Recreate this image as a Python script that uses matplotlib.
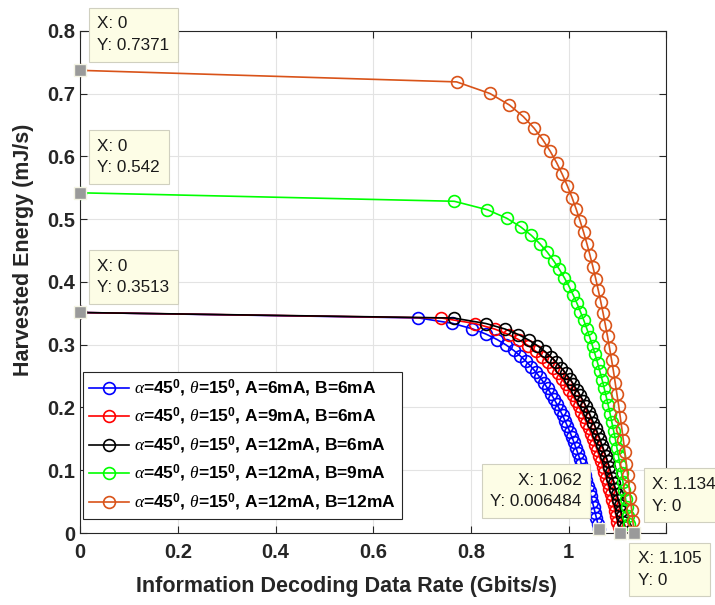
import matplotlib
matplotlib.use("Agg")
import matplotlib.pyplot as plt

# --- data (x: Gbits/s, y: mJ/s) ---
x_blue = [0, 0.6924, 0.7618, 0.8024, 0.8312, 0.8536, 0.8719, 0.8873, 0.9007, 0.9125, 0.9231,
          0.9326, 0.9414, 0.9493, 0.9568, 0.9637, 0.9701, 0.9762, 0.9819, 0.9874, 0.9925,
          0.9974, 1.0021, 1.0066, 1.0108, 1.0148, 1.0188, 1.0226, 1.0262, 1.0298, 1.0331,
          1.0364, 1.0396, 1.0427, 1.0456, 1.0486, 1.0514, 1.0541, 1.0569, 1.0595, 1.062]
y_blue = [0.3513, 0.3427, 0.3341, 0.3254, 0.3168, 0.3082, 0.2996, 0.2910, 0.2823, 0.2737, 0.2651,
          0.2565, 0.2479, 0.2392, 0.2306, 0.2220, 0.2134, 0.2048, 0.1961, 0.1875, 0.1789,
          0.1703, 0.1617, 0.1530, 0.1444, 0.1358, 0.1272, 0.1186, 0.1099, 0.1013, 0.0927,
          0.0841, 0.0755, 0.0668, 0.0582, 0.0496, 0.0410, 0.0324, 0.0237, 0.0151, 0.006484]

x_red = [0, 0.7397, 0.8083, 0.8484, 0.8770, 0.8991, 0.9172, 0.9324, 0.9457, 0.9573, 0.9678,
         0.9772, 0.9858, 0.9937, 1.0010, 1.0079, 1.0143, 1.0202, 1.0260, 1.0313, 1.0364,
         1.0412, 1.0458, 1.0502, 1.0544, 1.0585, 1.0623, 1.0661, 1.0698, 1.0732, 1.0766,
         1.0797, 1.0829, 1.0860, 1.0890, 1.0919, 1.0946, 1.0973, 1.0999, 1.1026, 1.105]
y_red = [0.3513, 0.3425, 0.3337, 0.3250, 0.3162, 0.3074, 0.2986, 0.2898, 0.2810, 0.2723, 0.2635,
         0.2547, 0.2459, 0.2371, 0.2283, 0.2196, 0.2108, 0.2020, 0.1932, 0.1844, 0.1757,
         0.1669, 0.1581, 0.1493, 0.1405, 0.1317, 0.1230, 0.1142, 0.1054, 0.0966, 0.0878,
         0.0790, 0.0703, 0.0615, 0.0527, 0.0439, 0.0351, 0.0263, 0.0176, 0.0088, 0.0]

x_black = [0, 0.7647, 0.8309, 0.8696, 0.8971, 0.9184, 0.9358, 0.9506, 0.9633, 0.9746, 0.9846,
           0.9937, 1.0021, 1.0097, 1.0167, 1.0233, 1.0295, 1.0352, 1.0407, 1.0460, 1.0508,
           1.0555, 1.0599, 1.0642, 1.0682, 1.0721, 1.0759, 1.0795, 1.0829, 1.0863, 1.0895,
           1.0926, 1.0957, 1.0987, 1.1015, 1.1043, 1.1070, 1.1095, 1.1121, 1.1145, 1.117]
y_black = y_red

x_green = [0, 0.7659, 0.8338, 0.8734, 0.9016, 0.9235, 0.9413, 0.9564, 0.9694, 0.9809, 0.9913,
           1.0007, 1.0091, 1.0170, 1.0242, 1.0310, 1.0373, 1.0433, 1.0488, 1.0541, 1.0592,
           1.0639, 1.0685, 1.0728, 1.0770, 1.0810, 1.0849, 1.0885, 1.0921, 1.0956, 1.0988,
           1.1021, 1.1051, 1.1082, 1.1111, 1.1139, 1.1166, 1.1193, 1.1219, 1.1245, 1.127]
y_green = [0.542, 0.5285, 0.5149, 0.5014, 0.4878, 0.4743, 0.4607, 0.4472, 0.4336, 0.4201, 0.4065,
           0.3930, 0.3794, 0.3659, 0.3523, 0.3388, 0.3252, 0.3117, 0.2981, 0.2846, 0.2710,
           0.2575, 0.2439, 0.2304, 0.2168, 0.2033, 0.1897, 0.1762, 0.1626, 0.1491, 0.1355,
           0.1220, 0.1084, 0.0949, 0.0813, 0.0678, 0.0542, 0.0407, 0.0271, 0.0136, 0.0]

x_orange = [0, 0.7707, 0.8389, 0.8789, 0.9072, 0.9292, 0.9471, 0.9623, 0.9755, 0.9870, 0.9975,
            1.0069, 1.0154, 1.0233, 1.0306, 1.0374, 1.0437, 1.0497, 1.0553, 1.0606, 1.0657,
            1.0705, 1.0751, 1.0795, 1.0837, 1.0877, 1.0916, 1.0952, 1.0988, 1.1024, 1.1057,
            1.1089, 1.1120, 1.1151, 1.1180, 1.1208, 1.1236, 1.1263, 1.1289, 1.1315, 1.134]
y_orange = [0.7371, 0.7187, 0.7002, 0.6818, 0.6634, 0.6450, 0.6265, 0.6081, 0.5897, 0.5713, 0.5528,
            0.5344, 0.5160, 0.4975, 0.4791, 0.4607, 0.4423, 0.4238, 0.4054, 0.3870, 0.3686,
            0.3501, 0.3317, 0.3133, 0.2948, 0.2764, 0.2580, 0.2396, 0.2211, 0.2027, 0.1843,
            0.1659, 0.1474, 0.1290, 0.1106, 0.0921, 0.0737, 0.0553, 0.0369, 0.0184, 0.0]

labels = [r"$\alpha$=45$^0$, $\theta$=15$^0$, A=6mA, B=6mA",
          r"$\alpha$=45$^0$, $\theta$=15$^0$, A=9mA, B=6mA",
          r"$\alpha$=45$^0$, $\theta$=15$^0$, A=12mA, B=6mA",
          r"$\alpha$=45$^0$, $\theta$=15$^0$, A=12mA, B=9mA",
          r"$\alpha$=45$^0$, $\theta$=15$^0$, A=12mA, B=12mA"]
colors = ["#0000ff", "#ff0000", "#000000", "#00ff00", "#d95319"]

xticks = [0, 0.2, 0.4, 0.6, 0.8, 1.0, 1.2]
xticklabels = ["0", "0.2", "0.4", "0.6", "0.8", "1", ""]  # 1.2 hidden under a data tip
yticks = [0, 0.1, 0.2, 0.3, 0.4, 0.5, 0.6, 0.7, 0.8]
yticklabels = ["0", "0.1", "0.2", "0.3", "0.4", "0.5", "0.6", "0.7", "0.8"]

# data tips: (x, y, text, text offset in points, alignment)
tips = [
    (0, 0.7371, "X: 0\nY: 0.7371", (12.5, 12.5), "left", "bottom"),
    (0, 0.542, "X: 0\nY: 0.542", (12.5, 12.5), "left", "bottom"),
    (0, 0.3513, "X: 0\nY: 0.3513", (12.5, 12.5), "left", "bottom"),
    (1.062, 0.006484, "X: 1.062\nY: 0.006484", (-12.5, 14), "right", "bottom"),
    (1.134, 0, "X: 1.134\nY: 0", (13, 14), "left", "bottom"),
    (1.105, 0, "X: 1.105\nY: 0", (13, -13), "left", "top"),
]

plt.rcParams["font.family"] = ["Liberation Sans", "DejaVu Sans"]
plt.rcParams["mathtext.fontset"] = "custom"
plt.rcParams["mathtext.rm"] = "Liberation Sans:bold"
plt.rcParams["mathtext.it"] = "Liberation Serif:italic"
plt.rcParams["mathtext.bf"] = "Liberation Sans:bold"

fig = plt.figure(figsize=(7.15, 6.05), dpi=100)
ax = fig.add_axes([0.112, 0.119, 0.820, 0.830])

xs = [x_blue, x_red, x_black, x_green, x_orange]
ys = [y_blue, y_red, y_black, y_green, y_orange]
for x, y, c, lab in zip(xs, ys, colors, labels):
    ax.plot(x, y, "-o", color=c, lw=1.2, ms=8.5, mfc="none", mew=1.2, label=lab)

ax.set_xlim(0, 1.2)
ax.set_ylim(0, 0.8)
ax.set_xticks(xticks)
ax.set_xticklabels(xticklabels)
ax.set_yticks(yticks)
ax.set_yticklabels(yticklabels)

axcol = "#262626"
ax.grid(True, color="#e3e3e3", lw=0.8)
ax.set_axisbelow(True)
ax.tick_params(direction="in", top=True, right=True, length=5, width=0.8,
               colors=axcol, labelsize=14.5)
ax.tick_params(axis="x", pad=7)
for lbl in ax.get_xticklabels() + ax.get_yticklabels():
    lbl.set_fontweight("bold")
for sp in ax.spines.values():
    sp.set_color(axcol)
    sp.set_linewidth(0.8)

ax.set_xlabel("Information Decoding Data Rate (Gbits/s)", fontsize=15.5,
              fontweight="bold", color=axcol)
ax.xaxis.set_label_coords(0.454, -0.085)
ax.set_ylabel("Harvested Energy (mJ/s)", fontsize=15.5, fontweight="bold",
              color=axcol)
ax.yaxis.set_label_coords(-0.078, 0.564)

leg = ax.legend(loc="lower left", bbox_to_anchor=(0.005, 0.028), borderaxespad=0,
                handlelength=2.3, handletextpad=0.3, labelspacing=0.42,
                borderpad=0.35, fancybox=False, framealpha=1, edgecolor=axcol,
                prop={"weight": "bold", "size": 12.5})
leg.get_frame().set_linewidth(0.8)
leg.set_zorder(5)

for x, y, txt, off, ha, va in tips:
    ax.plot(x, y, "s", ms=9, color="#9a9a9a", mec="#f4f4e4", mew=1, zorder=8,
            clip_on=False)
    ax.annotate(txt, xy=(x, y), xytext=off, textcoords="offset points", ha=ha, va=va,
                fontsize=12.3, color="#1a1a1a", linespacing=1.55, zorder=9,
                annotation_clip=False,
                bbox=dict(boxstyle="square,pad=0.5", fc="#fdfde6", ec="#d0d0c0", lw=0.8))

fig.savefig("out.png", dpi=100)
